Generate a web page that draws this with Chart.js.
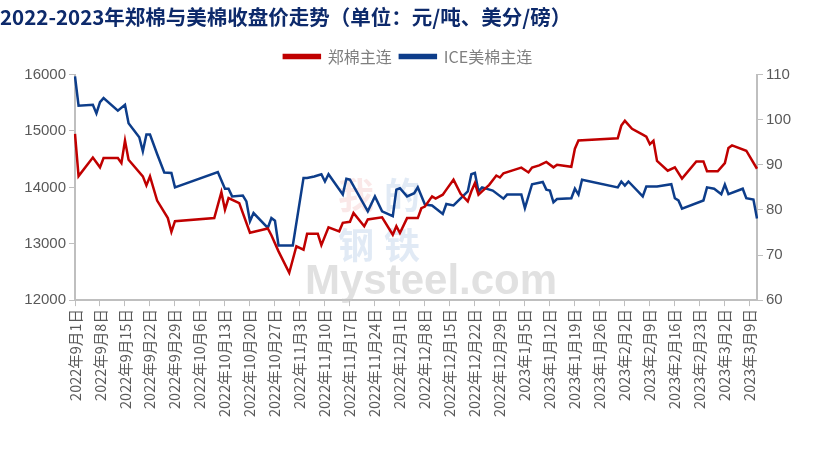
<!DOCTYPE html>
<html><head><meta charset="utf-8">
<script src="https://cdn.jsdelivr.net/npm/chart.js@4"></script>
<style>body{margin:0;background:#fff}</style></head>
<body><canvas id="c" width="816" height="461"></canvas>
<script>
const startDate = [2022, 9, 1];
const dayCount = 192;
const zzDays = [0,1,5,7,8,12,13,14,15,19,20,21,23,26,27,28,39,41,42,43,46,49,54,55,57,60,62,64,65,68,69,71,74,75,77,78,81,82,86,89,90,91,93,96,97,98,100,101,103,104,106,108,110,111,112,113,114,116,118,119,120,123,125,127,128,130,132,134,135,139,140,141,152,153,154,156,159,160,161,162,163,166,168,170,174,176,177,180,182,183,184,188,191];
const zzVals = [14950,14200,14530,14355,14520,14520,14430,14830,14490,14195,14035,14195,13765,13455,13210,13400,13455,13915,13605,13810,13720,13195,13270,13150,12865,12485,12955,12895,13175,13175,12975,13290,13220,13370,13390,13545,13310,13430,13470,13160,13310,13190,13455,13455,13630,13660,13840,13800,13870,13960,14135,13885,13750,13930,14075,13870,13930,14045,14210,14175,14250,14310,14350,14265,14350,14390,14450,14355,14400,14365,14685,14830,14870,15095,15180,15040,14935,14900,14765,14825,14470,14295,14355,14155,14460,14460,14285,14285,14430,14700,14745,14650,14330];
const iceDays = [0,1,5,6,7,8,12,14,15,18,19,20,21,23,25,27,28,40,42,43,44,47,48,49,50,54,55,56,57,61,64,65,67,69,70,71,75,76,77,82,84,86,89,90,91,93,95,96,98,100,103,104,106,110,111,112,113,114,117,120,121,125,126,128,131,132,133,134,135,139,140,141,142,152,153,154,155,159,160,163,167,168,169,170,176,177,179,181,182,183,187,188,190,191];
const iceVals = [109.6,103.1,103.3,101.4,103.9,104.8,102.0,103.3,99.2,96.1,93.0,96.7,96.7,92.4,88.3,88.2,85.0,88.4,84.7,84.7,83.0,83.2,81.9,77.5,79.3,76.0,78.2,77.6,72.1,72.1,87.1,87.1,87.4,87.9,86.3,87.9,83.4,86.9,86.7,79.7,83.0,79.7,78.6,84.5,84.8,83.0,83.7,85.0,81.2,81.0,79.1,81.3,81.0,84.1,87.9,88.2,84.1,85.0,84.3,82.5,83.4,83.4,80.4,85.7,86.2,84.5,84.3,81.7,82.4,82.6,84.7,83.4,86.7,85.0,86.3,85.4,86.3,83.0,85.2,85.2,85.7,82.6,82.1,80.3,82.1,85.0,84.7,83.5,85.6,83.5,84.7,82.6,82.3,78.1];
const seriesNames = ['郑棉主连','ICE美棉主连'];

const labels = [];
for (let i = 0; i < dayCount; i++) {
  const d = new Date(startDate[0], startDate[1]-1, startDate[2]+i);
  labels.push(d.getFullYear()+'年'+(d.getMonth()+1)+'月'+d.getDate()+'日');
}
function fill(days, vals){ const a = new Array(dayCount).fill(null); days.forEach((d,i)=>a[d]=vals[i]); return a; }

const watermark = {id:'wm', beforeDatasetsDraw(ch){
  const c = ch.ctx; c.save();
  c.font = 'bold 42px "Liberation Sans"'; c.fillStyle='rgba(200,200,200,0.55)';
  c.fillText('Mysteel.com', 305, 282);
  c.font = 'bold 36px "Noto Sans CJK SC"'; c.fillStyle='rgba(230,150,150,0.22)'; c.fillText('我', 338, 195);
  c.fillStyle='rgba(120,160,210,0.22)'; c.fillText('的', 384, 195); c.fillText('钢', 338, 245); c.fillText('铁', 384, 245);
  c.restore();
}};

new Chart(document.getElementById('c'), {
  type:'line',
  data:{labels, datasets:[
    {label:seriesNames[0], data:fill(zzDays,zzVals), borderColor:'#C00000', backgroundColor:'#C00000', borderWidth:2.5, pointRadius:0, spanGaps:true, yAxisID:'y', tension:0},
    {label:seriesNames[1], data:fill(iceDays,iceVals), borderColor:'#0D3D8A', backgroundColor:'#0D3D8A', borderWidth:2.5, pointRadius:0, spanGaps:true, yAxisID:'y2', tension:0}
  ]},
  plugins:[watermark],
  options:{responsive:false, animation:false,
    layout:{padding:{top:0,bottom:41,left:0,right:0}},
    plugins:{
      title:{display:true, text:'2022-2023年郑棉与美棉收盘价走势（单位：元/吨、美分/磅）', align:'start', color:'#0D2A6B', font:{family:'"Noto Sans CJK SC"', size:20.5, weight:'bold'}, padding:{top:5,bottom:11}},
      legend:{display:true, labels:{boxWidth:36, boxHeight:3, color:'#7f7f7f', font:{family:'"Noto Sans CJK SC"', size:16}, padding:8}},
      tooltip:{enabled:false}
    },
    scales:{
      x:{grid:{drawOnChartArea:false, color:'#bfbfbf', tickLength:6}, border:{color:'#bfbfbf', width:2},
        ticks:{autoSkip:false, maxRotation:90, minRotation:90, color:'#595959', font:{family:'"Noto Sans CJK SC"', size:14.5},
          callback:(v,i)=> i%7===0 ? labels[i] : null}},
      y:{position:'left', min:12000, max:16000, grid:{drawOnChartArea:false, color:'#bfbfbf', tickLength:6}, border:{color:'#bfbfbf', width:2},
        ticks:{stepSize:1000, color:'#595959', font:{family:'"Liberation Sans"', size:15}, callback:v=>String(v)},
        afterFit:s=>{s.width=75;}},
      y2:{position:'right', min:60, max:110, grid:{drawOnChartArea:false, color:'#bfbfbf', tickLength:6}, border:{color:'#bfbfbf', width:2},
        ticks:{stepSize:10, color:'#595959', font:{family:'"Liberation Sans"', size:15}},
        afterFit:s=>{s.width=59;}}
    }
  }
});
</script></body></html>
